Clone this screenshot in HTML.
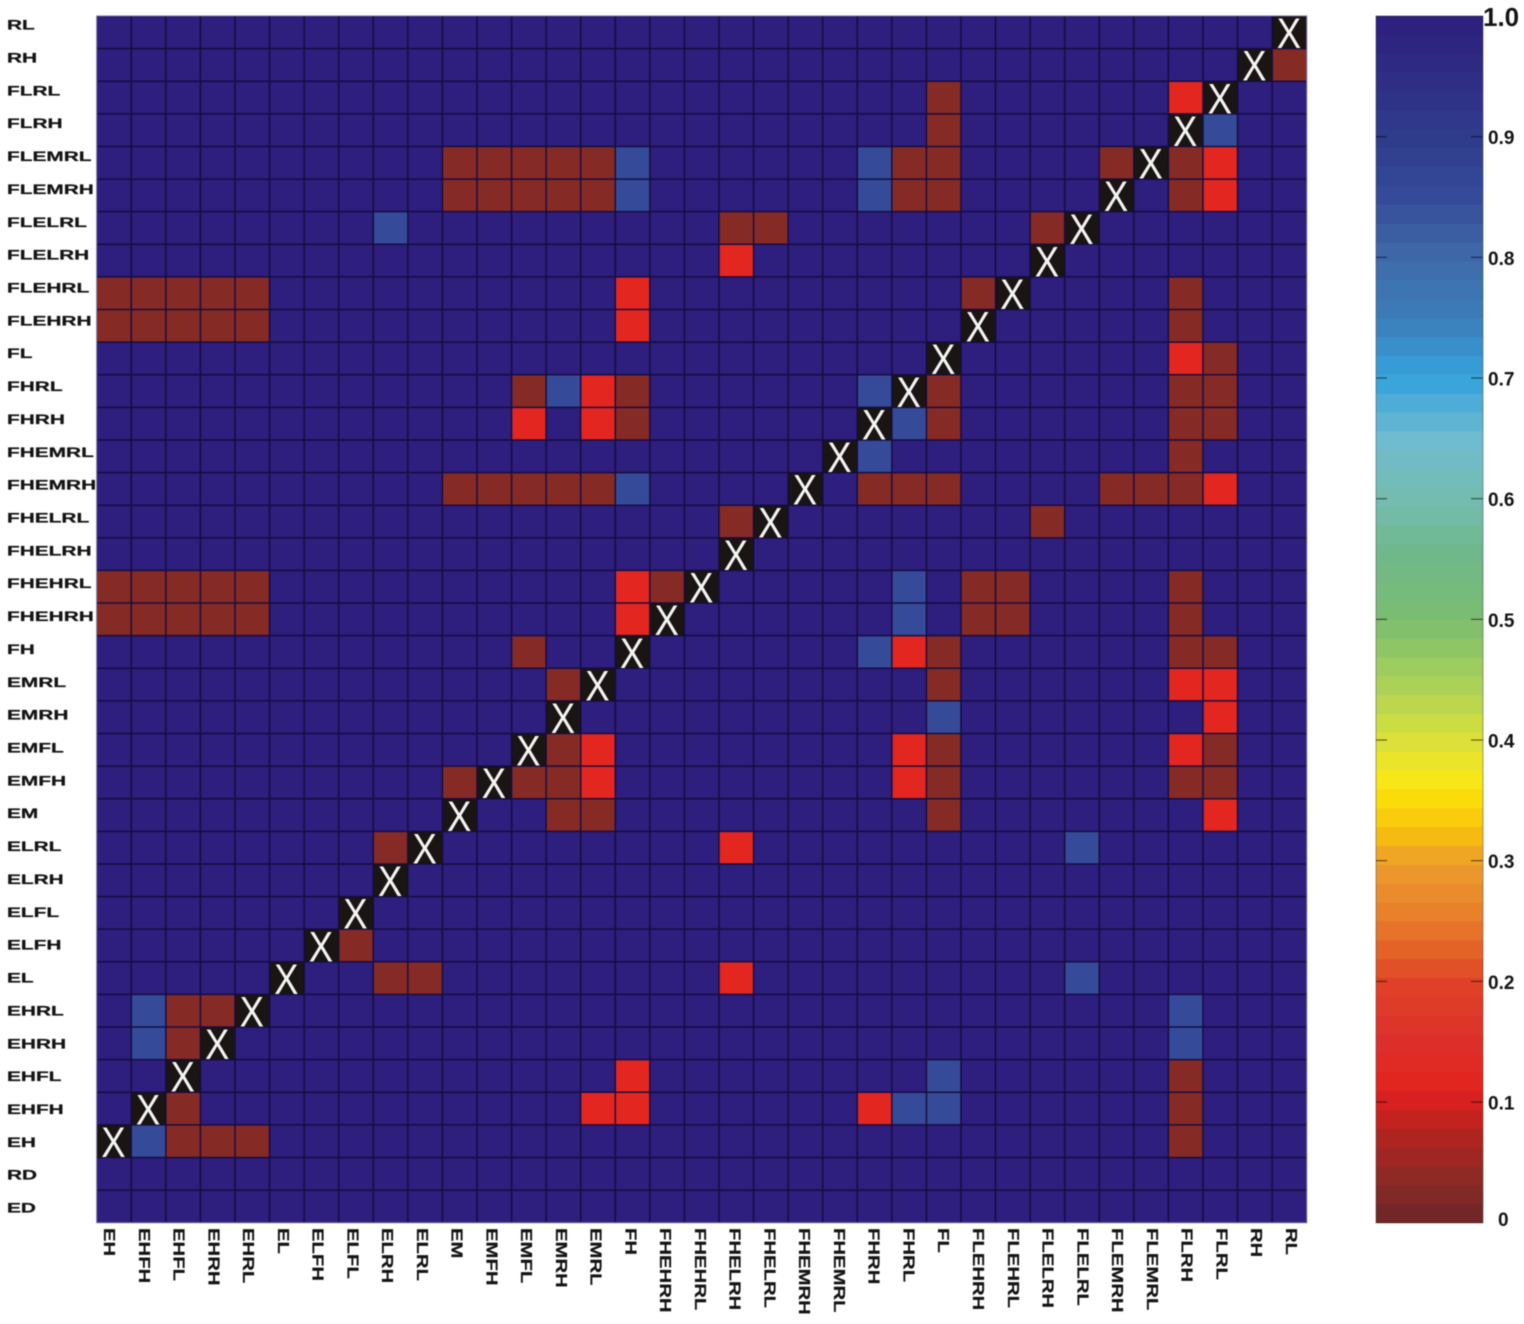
<!DOCTYPE html>
<html lang="en">
<head>
<meta charset="utf-8">
<title>Correlation heatmap</title>
<style>
html,body{margin:0;padding:0;background:#fff;width:1524px;height:1324px;overflow:hidden}
svg{display:block;filter:blur(.5px)}
text{font-family:"Liberation Sans",sans-serif}
</style>
</head>
<body>
<svg id="chart" xmlns="http://www.w3.org/2000/svg" width="1524" height="1324" viewBox="0 0 1524 1324"></svg>
<script>
const xCategories = ["EH","EHFH","EHFL","EHRH","EHRL","EL","ELFH","ELFL","ELRH","ELRL","EM","EMFH","EMFL","EMRH","EMRL","FH","FHEHRH","FHEHRL","FHELRH","FHELRL","FHEMRH","FHEMRL","FHRH","FHRL","FL","FLEHRH","FLEHRL","FLELRH","FLELRL","FLEMRH","FLEMRL","FLRH","FLRL","RH","RL"];
const yCategories = ["RL","RH","FLRL","FLRH","FLEMRL","FLEMRH","FLELRL","FLELRH","FLEHRL","FLEHRH","FL","FHRL","FHRH","FHEMRL","FHEMRH","FHELRL","FHELRH","FHEHRL","FHEHRH","FH","EMRL","EMRH","EMFL","EMFH","EM","ELRL","ELRH","ELFL","ELFH","EL","EHRL","EHRH","EHFL","EHFH","EH","RD","ED"];
const colorbarTicks = [0,0.1,0.2,0.3,0.4,0.5,0.6,0.7,0.8,0.9,1];
const colorbarTickLabels = ["0","0.1","0.2","0.3","0.4","0.5","0.6","0.7","0.8","0.9","1.0"];
const colorStopValues = [0,0.03,0.07,0.1,0.12,0.15,0.2,0.22,0.25,0.3,0.32,0.35,0.37,0.4,0.45,0.5,0.55,0.6,0.65,0.7,0.75,0.8,0.85,0.9,1];
const colorStopColors = ["#6c2428","#862a26","#ae241f","#d6201f","#e3261f","#dc302a","#df4227","#e25c25","#e77b2a","#ed9f2c","#f6bb10","#fbdb0a","#f7e81c","#dbe03a","#a6d05a","#7bbd6f","#6fb889","#73bcae","#6fbbd0","#35a3dc","#3c7dba","#3f6aa8","#354b99","#2f3c8c","#2e1e7d"];
const heatValues = [
[1,1,1,1,1, 1,1,1,1,1, 1,1,1,1,1, 1,1,1,1,1, 1,1,1,1,1, 1,1,1,1,1, 1,1,1,1,null],
[1,1,1,1,1, 1,1,1,1,1, 1,1,1,1,1, 1,1,1,1,1, 1,1,1,1,1, 1,1,1,1,1, 1,1,1,null,.03],
[1,1,1,1,1, 1,1,1,1,1, 1,1,1,1,1, 1,1,1,1,1, 1,1,1,1,.03, 1,1,1,1,1, 1,.12,null,1,1],
[1,1,1,1,1, 1,1,1,1,1, 1,1,1,1,1, 1,1,1,1,1, 1,1,1,1,.03, 1,1,1,1,1, 1,null,.85,1,1],
[1,1,1,1,1, 1,1,1,1,1, .03,.03,.03,.03,.03, .85,1,1,1,1, 1,1,.85,.03,.03, 1,1,1,1,.03, null,.03,.12,1,1],
[1,1,1,1,1, 1,1,1,1,1, .03,.03,.03,.03,.03, .85,1,1,1,1, 1,1,.85,.03,.03, 1,1,1,1,null, 1,.03,.12,1,1],
[1,1,1,1,1, 1,1,1,.85,1, 1,1,1,1,1, 1,1,1,.03,.03, 1,1,1,1,1, 1,1,.03,null,1, 1,1,1,1,1],
[1,1,1,1,1, 1,1,1,1,1, 1,1,1,1,1, 1,1,1,.12,1, 1,1,1,1,1, 1,1,null,1,1, 1,1,1,1,1],
[.03,.03,.03,.03,.03, 1,1,1,1,1, 1,1,1,1,1, .12,1,1,1,1, 1,1,1,1,1, .03,null,1,1,1, 1,.03,1,1,1],
[.03,.03,.03,.03,.03, 1,1,1,1,1, 1,1,1,1,1, .12,1,1,1,1, 1,1,1,1,1, null,1,1,1,1, 1,.03,1,1,1],
[1,1,1,1,1, 1,1,1,1,1, 1,1,1,1,1, 1,1,1,1,1, 1,1,1,1,null, 1,1,1,1,1, 1,.12,.03,1,1],
[1,1,1,1,1, 1,1,1,1,1, 1,1,.03,.85,.12, .03,1,1,1,1, 1,1,.85,null,.03, 1,1,1,1,1, 1,.03,.03,1,1],
[1,1,1,1,1, 1,1,1,1,1, 1,1,.12,1,.12, .03,1,1,1,1, 1,1,null,.85,.03, 1,1,1,1,1, 1,.03,.03,1,1],
[1,1,1,1,1, 1,1,1,1,1, 1,1,1,1,1, 1,1,1,1,1, 1,null,.85,1,1, 1,1,1,1,1, 1,.03,1,1,1],
[1,1,1,1,1, 1,1,1,1,1, .03,.03,.03,.03,.03, .85,1,1,1,1, null,1,.03,.03,.03, 1,1,1,1,.03, .03,.03,.12,1,1],
[1,1,1,1,1, 1,1,1,1,1, 1,1,1,1,1, 1,1,1,.03,null, 1,1,1,1,1, 1,1,.03,1,1, 1,1,1,1,1],
[1,1,1,1,1, 1,1,1,1,1, 1,1,1,1,1, 1,1,1,null,1, 1,1,1,1,1, 1,1,1,1,1, 1,1,1,1,1],
[.03,.03,.03,.03,.03, 1,1,1,1,1, 1,1,1,1,1, .12,.03,null,1,1, 1,1,1,.85,1, .03,.03,1,1,1, 1,.03,1,1,1],
[.03,.03,.03,.03,.03, 1,1,1,1,1, 1,1,1,1,1, .12,null,1,1,1, 1,1,1,.85,1, .03,.03,1,1,1, 1,.03,1,1,1],
[1,1,1,1,1, 1,1,1,1,1, 1,1,.03,1,1, null,1,1,1,1, 1,1,.85,.12,.03, 1,1,1,1,1, 1,.03,.03,1,1],
[1,1,1,1,1, 1,1,1,1,1, 1,1,1,.03,null, 1,1,1,1,1, 1,1,1,1,.03, 1,1,1,1,1, 1,.12,.12,1,1],
[1,1,1,1,1, 1,1,1,1,1, 1,1,1,null,1, 1,1,1,1,1, 1,1,1,1,.85, 1,1,1,1,1, 1,1,.12,1,1],
[1,1,1,1,1, 1,1,1,1,1, 1,1,null,.03,.12, 1,1,1,1,1, 1,1,1,.12,.03, 1,1,1,1,1, 1,.12,.03,1,1],
[1,1,1,1,1, 1,1,1,1,1, .03,null,.03,.03,.12, 1,1,1,1,1, 1,1,1,.12,.03, 1,1,1,1,1, 1,.03,.03,1,1],
[1,1,1,1,1, 1,1,1,1,1, null,1,1,.03,.03, 1,1,1,1,1, 1,1,1,1,.03, 1,1,1,1,1, 1,1,.12,1,1],
[1,1,1,1,1, 1,1,1,.03,null, 1,1,1,1,1, 1,1,1,.12,1, 1,1,1,1,1, 1,1,1,.85,1, 1,1,1,1,1],
[1,1,1,1,1, 1,1,1,null,1, 1,1,1,1,1, 1,1,1,1,1, 1,1,1,1,1, 1,1,1,1,1, 1,1,1,1,1],
[1,1,1,1,1, 1,1,null,1,1, 1,1,1,1,1, 1,1,1,1,1, 1,1,1,1,1, 1,1,1,1,1, 1,1,1,1,1],
[1,1,1,1,1, 1,null,.03,1,1, 1,1,1,1,1, 1,1,1,1,1, 1,1,1,1,1, 1,1,1,1,1, 1,1,1,1,1],
[1,1,1,1,1, null,1,1,.03,.03, 1,1,1,1,1, 1,1,1,.12,1, 1,1,1,1,1, 1,1,1,.85,1, 1,1,1,1,1],
[1,.85,.03,.03,null, 1,1,1,1,1, 1,1,1,1,1, 1,1,1,1,1, 1,1,1,1,1, 1,1,1,1,1, 1,.85,1,1,1],
[1,.85,.03,null,1, 1,1,1,1,1, 1,1,1,1,1, 1,1,1,1,1, 1,1,1,1,1, 1,1,1,1,1, 1,.85,1,1,1],
[1,1,null,1,1, 1,1,1,1,1, 1,1,1,1,1, .12,1,1,1,1, 1,1,1,1,.85, 1,1,1,1,1, 1,.03,1,1,1],
[1,null,.03,1,1, 1,1,1,1,1, 1,1,1,1,.12, .12,1,1,1,1, 1,1,.12,.85,.85, 1,1,1,1,1, 1,.03,1,1,1],
[null,.85,.03,.03,.03, 1,1,1,1,1, 1,1,1,1,1, 1,1,1,1,1, 1,1,1,1,1, 1,1,1,1,1, 1,.03,1,1,1],
[1,1,1,1,1, 1,1,1,1,1, 1,1,1,1,1, 1,1,1,1,1, 1,1,1,1,1, 1,1,1,1,1, 1,1,1,1,1],
[1,1,1,1,1, 1,1,1,1,1, 1,1,1,1,1, 1,1,1,1,1, 1,1,1,1,1, 1,1,1,1,1, 1,1,1,1,1]
];

const NS = "http://www.w3.org/2000/svg";
const svg = document.getElementById("chart");
const plot = {left: 96.7, right: 1306.7, top: 16, bottom: 1222.7};
const bar = {left: 1376, right: 1483, top: 16, bottom: 1222.7};
const cellW = (plot.right - plot.left) / xCategories.length;
const cellH = (plot.bottom - plot.top) / yCategories.length;
const xScale = i => plot.left + i * cellW;
const yScale = i => plot.top + i * cellH;
const barY = v => bar.bottom - (bar.bottom - bar.top) * v;

function hexToRgb(h) {
  return [1, 3, 5].map(k => parseInt(h.slice(k, k + 2), 16));
}
function colorFor(v) {
  const t = Math.max(0, Math.min(1, v));
  let k = 0;
  while (k < colorStopValues.length - 2 && t > colorStopValues[k + 1]) k++;
  const f = (t - colorStopValues[k]) / (colorStopValues[k + 1] - colorStopValues[k]);
  const a = hexToRgb(colorStopColors[k]);
  const b = hexToRgb(colorStopColors[k + 1]);
  return "rgb(" + a.map((c, n) => Math.round(c + (b[n] - c) * f)).join(",") + ")";
}
function make(tag, attrs, parent) {
  const el = document.createElementNS(NS, tag);
  for (const key in attrs) el.setAttribute(key, attrs[key]);
  parent.appendChild(el);
  return el;
}

const cellsGroup = make("g", {}, svg);


heatValues.forEach((row, r) => {
  row.forEach((value, c) => {
    const cell = make("rect", {
      x: xScale(c), y: yScale(r), width: cellW + 0.3, height: cellH + 0.3,
      fill: value === null ? "#1a1412" : colorFor(value)
    }, cellsGroup);
    
    
  });
});

const gridGroup = make("g", {stroke: "#140c3c", "stroke-opacity": "0.95", "stroke-width": "1.5"}, svg);


xCategories.forEach((name, i) => {
  if (i === 0) return;
  make("line", {x1: xScale(i), x2: xScale(i), y1: plot.top, y2: plot.bottom}, gridGroup);
});
yCategories.forEach((name, i) => {
  if (i === 0) return;
  make("line", {x1: plot.left, x2: plot.right, y1: yScale(i), y2: yScale(i)}, gridGroup);
});

const marksGroup = make("g", {}, svg);


heatValues.forEach((row, r) => {
  row.forEach((value, c) => {
    if (value !== null) return;
    const cx = xScale(c) + cellW / 2 - 0.5;
    const by = yScale(r) + cellH - 0.5;
    const mark = make("text", {
      transform: "translate(" + cx + "," + by + ") scale(0.85,1)",
      "text-anchor": "middle", "font-size": "43", fill: "#f4f4f4"
    }, marksGroup);
    
    
    mark.textContent = "X";
  });
});

make("rect", {x: plot.left, y: plot.top, width: plot.right - plot.left, height: plot.bottom - plot.top, fill: "none", stroke: "#6f6a95", "stroke-width": "1"}, svg);

yCategories.forEach((name, i) => {
  const label = make("text", {
    transform: "translate(7," + (29.6 + 32.86 * i) + ") scale(1.49,1)",
    "font-size": "14", "font-weight": "700", fill: "#141414", stroke: "#141414", "stroke-width": "0.25"
  }, svg);
  
  
  label.textContent = name;
});

xCategories.forEach((name, i) => {
  const label = make("text", {
    transform: "translate(" + (104 + 34.76 * i) + ",1228) rotate(90) scale(1.27,1)",
    "font-size": "16", "font-weight": "700", fill: "#141414", stroke: "#141414", "stroke-width": "0.2"
  }, svg);
  
  
  label.textContent = name;
});

const barGroup = make("g", {}, svg);


const bandCount = 64;
for (let k = 0; k < bandCount; k++) {
  const lo = k / bandCount;
  const hi = (k + 1) / bandCount;
  const band = make("rect", {
    x: bar.left, y: barY(hi), width: bar.right - bar.left, height: barY(lo) - barY(hi) + 0.4,
    fill: colorFor((lo + hi) / 2)
  }, barGroup);
  
  
}
make("rect", {x: bar.left, y: bar.top, width: bar.right - bar.left, height: bar.bottom - bar.top, fill: "none", stroke: "#000", "stroke-opacity": "0.35", "stroke-width": "1"}, barGroup);

colorbarTicks.forEach((tick, i) => {
  const y = barY(tick);
  if (tick > 0 && tick < 1) {
    make("line", {x1: bar.left, x2: bar.left + 11, y1: y, y2: y, stroke: "#000", "stroke-opacity": "0.55", "stroke-width": "1.2"}, barGroup);
    make("line", {x1: bar.right - 12, x2: bar.right, y1: y, y2: y, stroke: "#000", "stroke-opacity": "0.55", "stroke-width": "1.2"}, barGroup);
  }
  const isTop = tick === 1;
  const isZero = tick === 0;
  const label = make("text", {
    x: isTop ? 1483 : (isZero ? 1498 : 1488),
    y: isTop ? 26 : (isZero ? 1226 : y + 7.5),
    "font-size": isTop ? "26" : "19",
    "font-weight": "700", fill: "#141414"
  }, svg);
  
  
  label.textContent = colorbarTickLabels[i];
});
</script>
</body>
</html>
